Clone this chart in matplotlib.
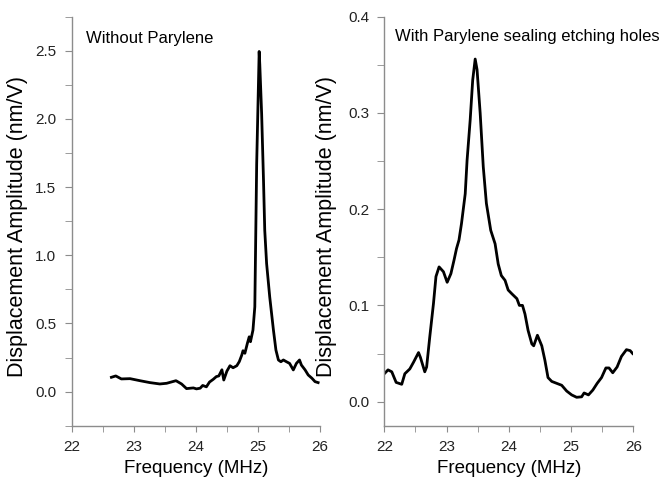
import numpy as np
import matplotlib.pyplot as plt
from matplotlib.ticker import MultipleLocator

plt.rcParams['font.family'] = ['Liberation Sans', 'DejaVu Sans']

# left panel: without parylene
freq_a = [22.64, 22.71, 22.80, 22.94, 23.10, 23.26, 23.42, 23.53, 23.68, 23.77,
          23.85, 23.96, 24.01, 24.07, 24.11, 24.17, 24.22, 24.28, 24.33, 24.37,
          24.42, 24.45, 24.50, 24.55, 24.60, 24.66, 24.70, 24.74, 24.76, 24.79,
          24.83, 24.86, 24.88, 24.92, 24.95, 24.98, 25.02, 25.03, 25.06, 25.09,
          25.11, 25.14, 25.19, 25.25, 25.29, 25.33, 25.37, 25.41, 25.46, 25.51,
          25.54, 25.57, 25.62, 25.67, 25.70, 25.76, 25.81, 25.87, 25.92, 25.97]
amp_a = [0.105, 0.115, 0.093, 0.095, 0.080, 0.066, 0.056, 0.061, 0.080, 0.056,
         0.022, 0.027, 0.020, 0.025, 0.045, 0.035, 0.070, 0.090, 0.110, 0.115,
         0.160, 0.085, 0.150, 0.190, 0.175, 0.190, 0.220, 0.268, 0.300, 0.281,
         0.354, 0.402, 0.366, 0.451, 0.622, 1.670, 2.495, 2.400, 2.037, 1.549,
         1.183, 0.939, 0.695, 0.451, 0.305, 0.232, 0.219, 0.232, 0.219, 0.207,
         0.183, 0.159, 0.207, 0.232, 0.195, 0.159, 0.122, 0.098, 0.073, 0.066]

# right panel: with parylene sealing etching holes
freq_b = [22.00, 22.06, 22.12, 22.19, 22.28, 22.33, 22.41, 22.47, 22.55, 22.58,
          22.65, 22.68, 22.73, 22.79, 22.83, 22.88, 22.95, 23.01, 23.07, 23.12,
          23.16, 23.20, 23.24, 23.30, 23.33, 23.38, 23.42, 23.46, 23.49, 23.54,
          23.59, 23.64, 23.71, 23.78, 23.83, 23.88, 23.94, 23.99, 24.05, 24.13,
          24.17, 24.22, 24.26, 24.31, 24.37, 24.40, 24.46, 24.53, 24.58, 24.63,
          24.69, 24.77, 24.85, 24.93, 25.01, 25.09, 25.17, 25.21, 25.28, 25.35,
          25.42, 25.49, 25.56, 25.61, 25.67, 25.74, 25.81, 25.89, 25.95, 25.99]
amp_b = [0.029, 0.033, 0.031, 0.020, 0.018, 0.029, 0.034, 0.041, 0.051, 0.046,
         0.031, 0.036, 0.067, 0.102, 0.130, 0.140, 0.135, 0.124, 0.133, 0.147,
         0.159, 0.168, 0.185, 0.216, 0.251, 0.293, 0.334, 0.356, 0.345, 0.300,
         0.244, 0.206, 0.178, 0.164, 0.143, 0.131, 0.126, 0.116, 0.112, 0.107,
         0.100, 0.100, 0.091, 0.074, 0.060, 0.058, 0.069, 0.058, 0.043, 0.025,
         0.021, 0.019, 0.017, 0.011, 0.007, 0.0045, 0.005, 0.009, 0.007, 0.012,
         0.019, 0.025, 0.035, 0.035, 0.030, 0.036, 0.047, 0.054, 0.053, 0.050]

fig = plt.figure(figsize=(6.65, 4.87), dpi=100)
ax1 = fig.add_axes([0.1078, 0.1259, 0.3734, 0.8398])
ax2 = fig.add_axes([0.5779, 0.1259, 0.3744, 0.8398])

panels = [
    (ax1, freq_a, amp_a, (-0.25, 2.75), 0.5, 0.25, "Without Parylene", (0.058, 0.947), -0.176),
    (ax2, freq_b, amp_b, (-0.025, 0.4), 0.1, 0.05, "With Parylene sealing etching holes", (0.043, 0.951), -0.190),
]

for ax, f, a, ylim, ymaj, ymin, title, tpos, ylab_x in panels:
    ax.plot(f, a, color='black', lw=2)
    ax.set_xlim(22, 26)
    ax.set_ylim(*ylim)
    ax.xaxis.set_major_locator(MultipleLocator(1))
    ax.xaxis.set_minor_locator(MultipleLocator(0.5))
    ax.yaxis.set_major_locator(MultipleLocator(ymaj))
    ax.yaxis.set_minor_locator(MultipleLocator(ymin))
    ax.yaxis.set_major_formatter(plt.FormatStrFormatter('%.1f'))
    for s in ['top', 'right']:
        ax.spines[s].set_visible(False)
    for s in ['left', 'bottom']:
        ax.spines[s].set_color('#8c8c8c')
        ax.spines[s].set_linewidth(1.0)
    ax.tick_params(which='both', direction='out', color='#8c8c8c', labelsize=11,
                   labelcolor='#222222')
    ax.tick_params(axis='y', which='major', length=5, pad=6)
    ax.tick_params(axis='y', which='minor', length=5)
    ax.tick_params(axis='x', which='major', length=4, pad=6)
    ax.tick_params(axis='x', which='minor', length=4)
    ax.set_xlabel("Frequency (MHz)", fontsize=13.5)
    ax.xaxis.set_label_coords(0.5, -0.083)
    ax.set_ylabel("Displacement Amplitude (nm/V)", fontsize=15.5)
    ax.yaxis.set_label_coords(ylab_x, 0.486)
    ax.text(tpos[0], tpos[1], title, transform=ax.transAxes, fontsize=12,
            ha='left', va='center', clip_on=False)

fig.savefig("out.png", dpi=100)
